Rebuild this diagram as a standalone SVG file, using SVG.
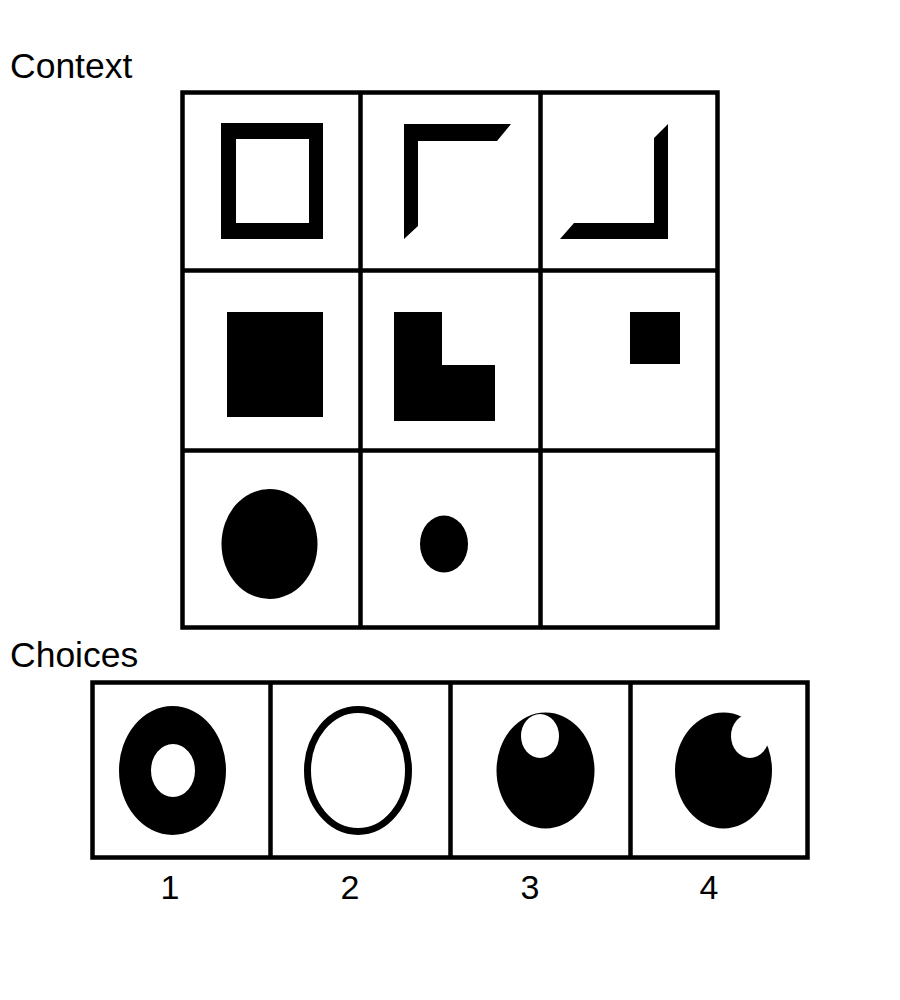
<svg xmlns="http://www.w3.org/2000/svg" width="900" height="1000" viewBox="0 0 900 1000">
<style>
.grid{fill:none;stroke:#000;stroke-width:4.5}
.lbl{font-family:"Liberation Sans",Arial,sans-serif;font-size:34px;fill:#000}
.head{font-size:35.5px}
.sh{fill:#000}
</style>
<rect width="900" height="1000" fill="#fff"/>
<text class="lbl head" x="10" y="78">Context</text>
<text class="lbl head" x="10" y="667">Choices</text>
<g id="context-grid">
<rect class="grid" x="182.5" y="92.5" width="535" height="535"/>
<line class="grid" x1="360.5" y1="92.5" x2="360.5" y2="627.5"/>
<line class="grid" x1="540.5" y1="92.5" x2="540.5" y2="627.5"/>
<line class="grid" x1="182.5" y1="270.5" x2="717.5" y2="270.5"/>
<line class="grid" x1="182.5" y1="450.5" x2="717.5" y2="450.5"/>
</g>
<g id="cell-1-1"><path class="sh" fill-rule="evenodd" d="M221 123H323V239H221Z M236 139V223H309V139Z"/></g>
<g id="cell-1-2"><polygon class="sh" points="404,124 511,124 497,141 418,141 418,226 404,239"/></g>
<g id="cell-1-3"><polygon class="sh" points="668,124 668,239 560,239 574,223 654,223 654,138"/></g>
<g id="cell-2-1"><rect class="sh" x="227" y="312" width="96" height="105"/></g>
<g id="cell-2-2"><polygon class="sh" points="394,312 442,312 442,365 495,365 495,421 394,421"/></g>
<g id="cell-2-3"><rect class="sh" x="630" y="312" width="50" height="52"/></g>
<g id="cell-3-1"><ellipse class="sh" cx="269.5" cy="544" rx="48" ry="55"/></g>
<g id="cell-3-2"><ellipse class="sh" cx="444" cy="544" rx="24" ry="28.5"/></g>
<g id="cell-3-3"></g>
<g id="choices-grid">
<rect class="grid" x="92.5" y="682.5" width="715" height="175"/>
<line class="grid" x1="270.5" y1="682.5" x2="270.5" y2="857.5"/>
<line class="grid" x1="450.5" y1="682.5" x2="450.5" y2="857.5"/>
<line class="grid" x1="630.5" y1="682.5" x2="630.5" y2="857.5"/>
</g>
<g id="choice-1"><path class="sh" fill-rule="evenodd" d="M119 770.5a53.5 64.5 0 1 0 107 0a53.5 64.5 0 1 0 -107 0Z M151 770.5a22 26.5 0 1 0 44 0a22 26.5 0 1 0 -44 0Z"/></g>
<g id="choice-2"><ellipse cx="358" cy="770.5" rx="50.5" ry="61" fill="none" stroke="#000" stroke-width="7"/></g>
<g id="choice-3"><ellipse class="sh" cx="545.5" cy="770.5" rx="49" ry="58"/><ellipse cx="540" cy="736" rx="19" ry="22" fill="#fff"/></g>
<g id="choice-4"><ellipse class="sh" cx="723.5" cy="770.5" rx="48.5" ry="58"/><ellipse cx="750" cy="736" rx="19" ry="22" fill="#fff"/></g>
<g id="choice-labels">
<text class="lbl" x="170" y="899" text-anchor="middle">1</text>
<text class="lbl" x="350" y="899" text-anchor="middle">2</text>
<text class="lbl" x="530" y="899" text-anchor="middle">3</text>
<text class="lbl" x="709" y="899" text-anchor="middle">4</text>
</g>
</svg>
